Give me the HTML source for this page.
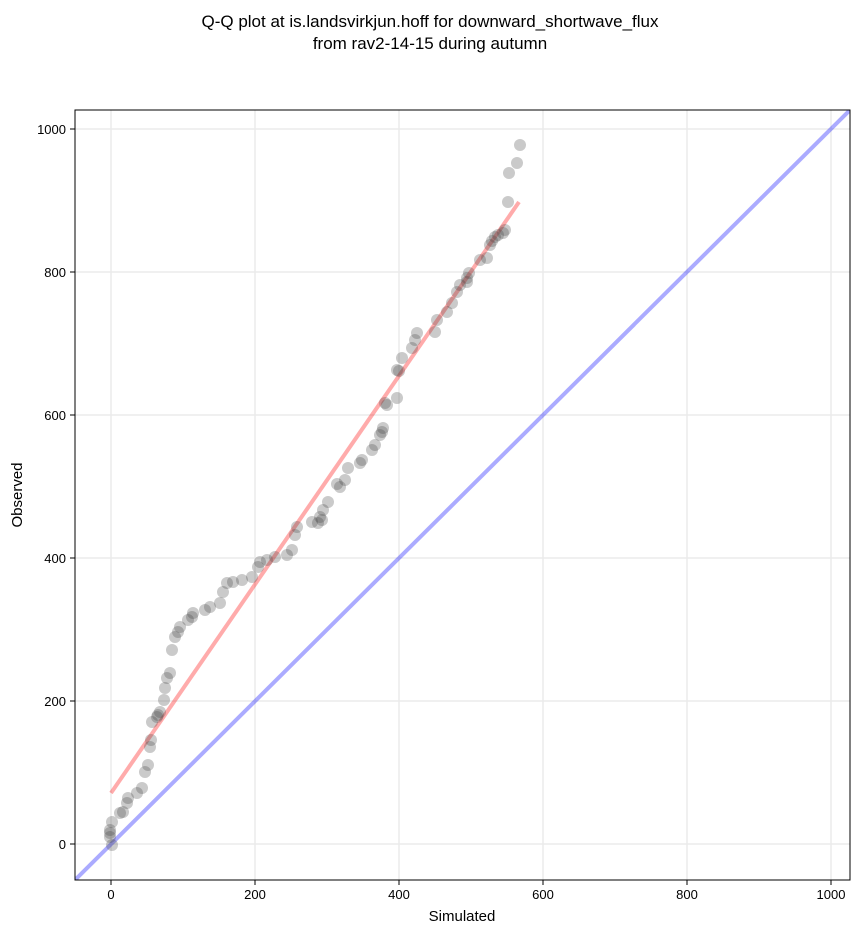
<!DOCTYPE html>
<html><head><style>body{margin:0;background:#fff}</style></head><body>
<svg width="860" height="934" xmlns="http://www.w3.org/2000/svg" font-family="Liberation Sans, DejaVu Sans, sans-serif">
<rect width="860" height="934" fill="#fff"/>
<text x="430" y="27" font-size="17" text-anchor="middle">Q-Q plot at is.landsvirkjun.hoff for downward_shortwave_flux</text>
<text x="430" y="49" font-size="17" text-anchor="middle">from rav2-14-15 during autumn</text>
<g stroke="#ebebeb" stroke-width="1.5">
<line x1="111" y1="110" x2="111" y2="880"/><line x1="255" y1="110" x2="255" y2="880"/><line x1="399" y1="110" x2="399" y2="880"/><line x1="543" y1="110" x2="543" y2="880"/><line x1="687" y1="110" x2="687" y2="880"/><line x1="831" y1="110" x2="831" y2="880"/>
<line x1="75" y1="844" x2="850" y2="844"/><line x1="75" y1="701" x2="850" y2="701"/><line x1="75" y1="558" x2="850" y2="558"/><line x1="75" y1="415" x2="850" y2="415"/><line x1="75" y1="272" x2="850" y2="272"/><line x1="75" y1="129" x2="850" y2="129"/>
</g>
<clipPath id="c"><rect x="75" y="110" width="775" height="770"/></clipPath>
<g clip-path="url(#c)">
<line x1="75" y1="880" x2="850" y2="110" stroke="#0000ff" stroke-opacity="0.33" stroke-width="4"/>
<line x1="111" y1="793" x2="519" y2="202" stroke="#ff0000" stroke-opacity="0.33" stroke-width="4"/>
<g fill="#404040" fill-opacity="0.28">
<circle cx="520" cy="145" r="6"/><circle cx="517" cy="163" r="6"/><circle cx="509" cy="173" r="6"/><circle cx="508" cy="202" r="6"/><circle cx="505" cy="230" r="6"/><circle cx="503" cy="233" r="6"/><circle cx="498" cy="235" r="6"/><circle cx="495" cy="237" r="6"/><circle cx="492" cy="241" r="6"/><circle cx="490" cy="245" r="6"/><circle cx="487" cy="258" r="6"/><circle cx="480" cy="260" r="6"/><circle cx="469" cy="273" r="6"/><circle cx="467" cy="278" r="6"/><circle cx="467" cy="282" r="6"/><circle cx="460" cy="285" r="6"/><circle cx="457" cy="292" r="6"/><circle cx="452" cy="303" r="6"/><circle cx="447" cy="312" r="6"/><circle cx="437" cy="320" r="6"/><circle cx="435" cy="332" r="6"/><circle cx="417" cy="333" r="6"/><circle cx="415" cy="340" r="6"/><circle cx="412" cy="348" r="6"/><circle cx="402" cy="358" r="6"/><circle cx="397" cy="370" r="6"/><circle cx="399" cy="371" r="6"/><circle cx="397" cy="398" r="6"/><circle cx="387" cy="405" r="6"/><circle cx="385" cy="403" r="6"/><circle cx="383" cy="428" r="6"/>
<circle cx="382" cy="432" r="6"/><circle cx="380" cy="435" r="6"/><circle cx="375" cy="445" r="6"/><circle cx="372" cy="450" r="6"/><circle cx="362" cy="460" r="6"/><circle cx="360" cy="463" r="6"/><circle cx="348" cy="468" r="6"/><circle cx="345" cy="480" r="6"/><circle cx="340" cy="487" r="6"/><circle cx="337" cy="484" r="6"/><circle cx="328" cy="502" r="6"/><circle cx="323" cy="510" r="6"/><circle cx="322" cy="520" r="6"/><circle cx="320" cy="517" r="6"/><circle cx="318" cy="523" r="6"/><circle cx="312" cy="522" r="6"/><circle cx="297" cy="527" r="6"/><circle cx="295" cy="535" r="6"/><circle cx="292" cy="550" r="6"/><circle cx="287" cy="555" r="6"/><circle cx="275" cy="557" r="6"/><circle cx="267" cy="560" r="6"/><circle cx="260" cy="562" r="6"/><circle cx="258" cy="567" r="6"/><circle cx="252" cy="577" r="6"/><circle cx="242" cy="580" r="6"/><circle cx="233" cy="582" r="6"/><circle cx="227" cy="583" r="6"/><circle cx="223" cy="592" r="6"/><circle cx="220" cy="603" r="6"/><circle cx="210" cy="607" r="6"/><circle cx="205" cy="610" r="6"/><circle cx="193" cy="613" r="6"/><circle cx="192" cy="617" r="6"/>
<circle cx="188" cy="620" r="6"/><circle cx="180" cy="627" r="6"/><circle cx="178" cy="632" r="6"/><circle cx="175" cy="637" r="6"/><circle cx="172" cy="650" r="6"/><circle cx="170" cy="673" r="6"/><circle cx="167" cy="678" r="6"/><circle cx="165" cy="688" r="6"/><circle cx="164" cy="700" r="6"/><circle cx="160" cy="712" r="6"/><circle cx="158" cy="715" r="6"/><circle cx="157" cy="717" r="6"/><circle cx="152" cy="722" r="6"/><circle cx="151" cy="740" r="6"/><circle cx="150" cy="747" r="6"/><circle cx="148" cy="765" r="6"/><circle cx="145" cy="772" r="6"/><circle cx="142" cy="788" r="6"/><circle cx="137" cy="793" r="6"/><circle cx="128" cy="798" r="6"/><circle cx="127" cy="803" r="6"/><circle cx="123" cy="812" r="6"/><circle cx="120" cy="813" r="6"/><circle cx="112" cy="822" r="6"/><circle cx="110" cy="830" r="6"/><circle cx="110" cy="833" r="6"/><circle cx="110" cy="837" r="6"/><circle cx="112" cy="845" r="6"/>
</g>
</g>
<rect x="75" y="110" width="775" height="770" fill="none" stroke="#000" stroke-width="1"/>
<g stroke="#000"><line x1="111" y1="880" x2="111" y2="885"/><line x1="255" y1="880" x2="255" y2="885"/><line x1="399" y1="880" x2="399" y2="885"/><line x1="543" y1="880" x2="543" y2="885"/><line x1="687" y1="880" x2="687" y2="885"/><line x1="831" y1="880" x2="831" y2="885"/>
<line x1="70" y1="844" x2="75" y2="844"/><line x1="70" y1="701" x2="75" y2="701"/><line x1="70" y1="558" x2="75" y2="558"/><line x1="70" y1="415" x2="75" y2="415"/><line x1="70" y1="272" x2="75" y2="272"/><line x1="70" y1="129" x2="75" y2="129"/></g>
<g font-size="13" text-anchor="middle"><text x="111" y="899">0</text><text x="255" y="899">200</text><text x="399" y="899">400</text><text x="543" y="899">600</text><text x="687" y="899">800</text><text x="831" y="899">1000</text></g>
<g font-size="13" text-anchor="end"><text x="66" y="849">0</text><text x="66" y="706">200</text><text x="66" y="563">400</text><text x="66" y="420">600</text><text x="66" y="277">800</text><text x="66" y="134">1000</text></g>
<text x="462" y="921" font-size="15" text-anchor="middle">Simulated</text>
<text x="22" y="495" font-size="15" text-anchor="middle" transform="rotate(-90 22 495)">Observed</text>
</svg>
</body></html>
